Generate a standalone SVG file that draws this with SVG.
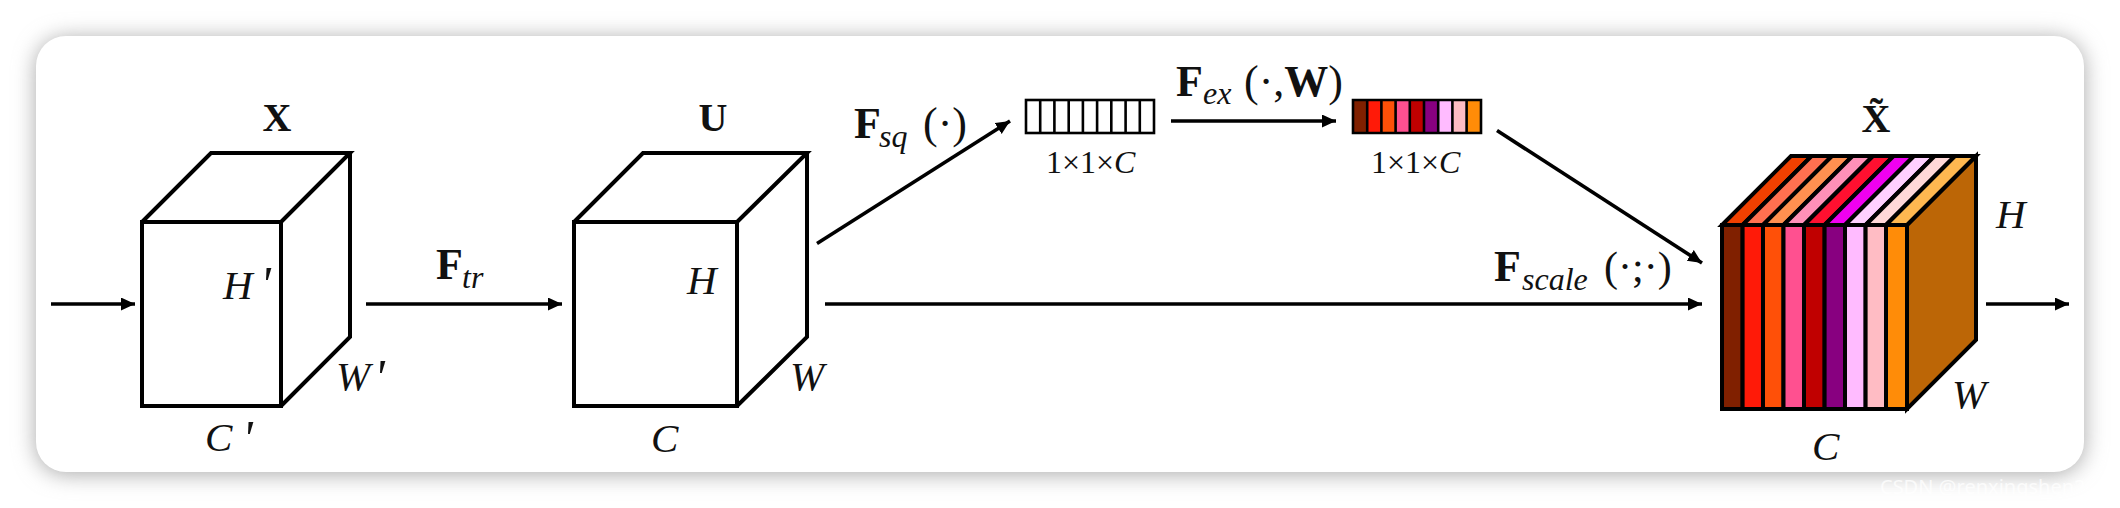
<svg xmlns="http://www.w3.org/2000/svg" width="2120" height="508" viewBox="0 0 2120 508">
<style>
.e{fill:none;stroke:#000;stroke-width:4;stroke-linejoin:miter}
.t{font-family:"Liberation Serif","Times New Roman",serif;fill:#111}
.i{font-style:italic;font-size:41px}
.b{font-weight:bold;font-size:40px}
.F{font-weight:bold;font-size:44px}
.s{font-style:italic;font-size:32px}
.q{font-style:italic;font-size:50px}
.p{font-size:44px}
.d{font-size:32px}
.c{stroke:#000;stroke-width:3.6;fill:none;marker-end:url(#a)}
.o{stroke:#000;stroke-width:2.6}
</style>
<defs>
<marker id="a" markerUnits="userSpaceOnUse" markerWidth="16" markerHeight="16" refX="14" refY="6.5" orient="auto"><path d="M0 0L14 6.5L0 13Z" fill="#000"/></marker>
<filter id="sh" x="-5%" y="-20%" width="110%" height="140%"><feGaussianBlur stdDeviation="11"/></filter>
</defs>
<rect width="2120" height="508" fill="#fff"/>
<g id="card">
<rect x="36" y="38" width="2048" height="436" rx="30" fill="#a8a8a8" filter="url(#sh)"/>
<rect x="36" y="36" width="2048" height="436" rx="30" fill="#fff"/>
</g>
<g id="connectors">
<path class="c" d="M51 304H135"/>
<path class="c" d="M366 304H562"/>
<path class="c" d="M817 243.500L1010 121"/>
<path class="c" d="M1171 121H1336"/>
<path class="c" d="M1497 130.500L1702 263"/>
<path class="c" d="M825 304H1702"/>
<path class="c" d="M1986 304H2069"/>
</g>
<g id="node-x">
<path class="e" d="M142 222H281V406H142ZM142 222L211 153H350L281 222M350 153V337L281 406"/>
<text class="t b" x="277" y="131" text-anchor="middle">X</text>
<text class="t i" x="223" y="299">H</text><text class="t q" x="260" y="301">'</text>
<text class="t i" x="336" y="390">W</text><text class="t q" x="374" y="394">'</text>
<text class="t i" x="205" y="451">C</text><text class="t q" x="242" y="455">'</text>
</g>
<g id="label-ftr"><text class="t F" x="436" y="279">F</text><text class="t s" x="462" y="288">tr</text></g>
<g id="node-u">
<path class="e" d="M574 222H737V406H574ZM574 222L643 153H807L737 222M807 153V337L737 406"/>
<text class="t b" x="713" y="131" text-anchor="middle">U</text>
<text class="t i" x="687" y="294">H</text>
<text class="t i" x="790" y="390">W</text>
<text class="t i" x="651" y="452">C</text>
</g>
<g id="label-fsq"><text class="t F" x="854" y="138">F</text><text class="t s" x="879" y="147">sq</text><text class="t p" x="923" y="138">(·)</text></g>
<g id="node-squeeze">
<rect x="1026" y="100" width="128" height="33" fill="#fff" stroke="#000" stroke-width="2.6"/>
<path class="o" d="M1040.2 100V133M1054.400 100V133M1068.700 100V133M1082.900 100V133M1097.100 100V133M1111.300 100V133M1125.600 100V133M1139.800 100V133"/>
<text class="t d" x="1046" y="173">1×1×<tspan font-style="italic">C</tspan></text>
</g>
<g id="label-fex"><text class="t F" x="1176" y="96">F</text><text class="t s" x="1203" y="104">ex</text><text class="t p" x="1244" y="96">(·,<tspan font-weight="bold">W</tspan>)</text></g>
<g id="node-excite">
<rect x="1353" y="100" width="14.2" height="33" fill="#802000"/><rect x="1367.2" y="100" width="14.2" height="33" fill="#ff1a08"/><rect x="1381.4" y="100" width="14.2" height="33" fill="#ff5008"/><rect x="1395.6" y="100" width="14.2" height="33" fill="#ff5090"/><rect x="1409.8" y="100" width="14.2" height="33" fill="#c00000"/><rect x="1424" y="100" width="14.2" height="33" fill="#880080"/><rect x="1438.2" y="100" width="14.2" height="33" fill="#ffbbff"/><rect x="1452.4" y="100" width="14.2" height="33" fill="#ffbcc4"/><rect x="1466.6" y="100" width="14.4" height="33" fill="#ff8c08"/>
<path class="o" fill="none" d="M1353 100H1481V133H1353ZM1367.2 100V133M1381.400 100V133M1395.600 100V133M1409.800 100V133M1424 100V133M1438.200 100V133M1452.400 100V133M1466.600 100V133"/>
<text class="t d" x="1371" y="173">1×1×<tspan font-style="italic">C</tspan></text>
</g>
<g id="label-fscale"><text class="t F" x="1494" y="281">F</text><text class="t s" x="1522" y="290">scale</text><text class="t p" x="1604" y="281" font-size="42" style="font-size:42px">(·;·)</text></g>
<g id="node-xtilde" stroke="#000" stroke-width="4">
<path fill="#bc6606" d="M1907 225L1976 156V340L1907 409Z"/>
<path fill="#f04000" d="M1722 225L1791 156H1811.600L1742.600 225Z"/>
<path fill="#ff7050" d="M1742.600 225L1811.600 156H1832L1763 225Z"/>
<path fill="#ff9050" d="M1763 225L1832 156H1852.500L1783.500 225Z"/>
<path fill="#ff90b8" d="M1783.500 225L1852.500 156H1873L1804 225Z"/>
<path fill="#ff1030" d="M1804 225L1873 156H1893.600L1824.600 225Z"/>
<path fill="#f000f0" d="M1824.600 225L1893.600 156H1914L1845 225Z"/>
<path fill="#ffd0ff" d="M1845 225L1914 156H1934.600L1865.600 225Z"/>
<path fill="#ffd8d8" d="M1865.600 225L1934.600 156H1955L1886 225Z"/>
<path fill="#ffb850" d="M1886 225L1955 156H1976L1907 225Z"/>
<rect x="1722" y="225" width="20.6" height="184" fill="#802000"/>
<rect x="1742.6" y="225" width="20.4" height="184" fill="#ff1a08"/>
<rect x="1763" y="225" width="20.5" height="184" fill="#ff5008"/>
<rect x="1783.5" y="225" width="20.5" height="184" fill="#ff5090"/>
<rect x="1804" y="225" width="20.6" height="184" fill="#c00000"/>
<rect x="1824.6" y="225" width="20.4" height="184" fill="#880080"/>
<rect x="1845" y="225" width="20.6" height="184" fill="#ffbbff"/>
<rect x="1865.6" y="225" width="20.4" height="184" fill="#ffbcc4"/>
<rect x="1886" y="225" width="21" height="184" fill="#ff8c08"/>
<g stroke="none">
<text class="t b" x="1876" y="132" text-anchor="middle">X̃</text>
<text class="t i" x="1996" y="228">H</text>
<text class="t i" x="1952" y="408">W</text>
<text class="t i" x="1812" y="460">C</text>
</g>
</g>
<text x="1880" y="494" font-family="'Noto Sans','Liberation Sans',sans-serif" font-size="20" fill="#fff" fill-opacity="0.75">CSDN @renxingshen2022</text>
</svg>
